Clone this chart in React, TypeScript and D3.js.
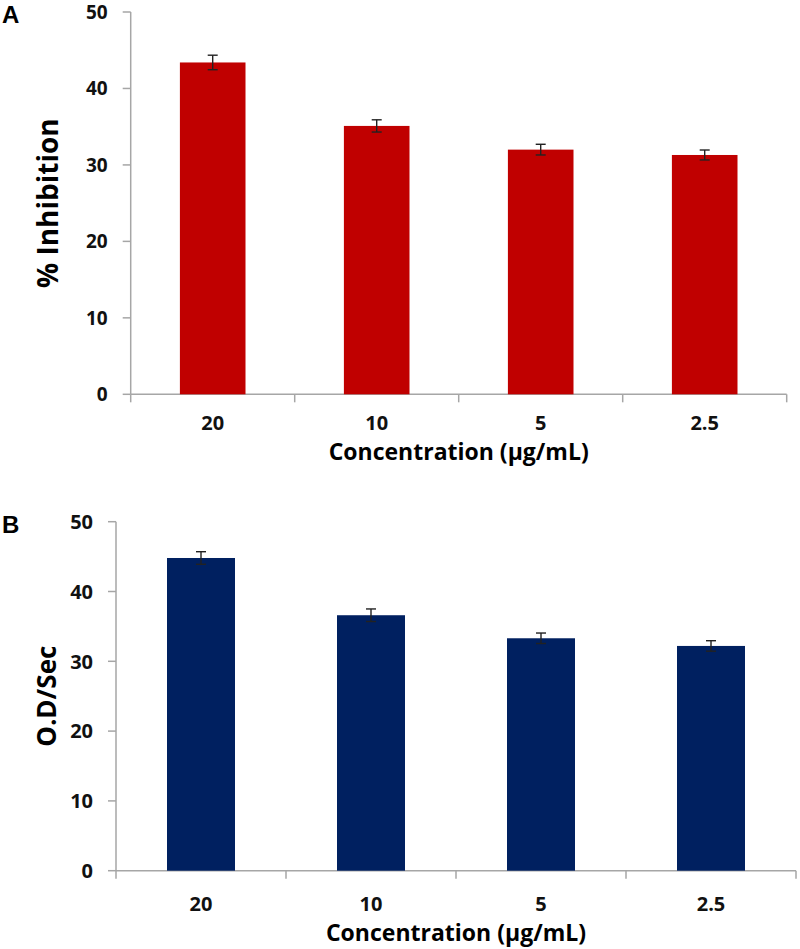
import React from "react";
import * as d3 from "d3";

const categories = ["20", "10", "5", "2.5"];
const inhibition = [43.4, 35.1, 32.0, 31.3];
const inhibitionErr = [0.95, 0.8, 0.7, 0.65];
const odSec = [44.8, 36.6, 33.3, 32.2];
const odSecErr = [0.9, 0.9, 0.75, 0.75];
const yTicks = [0, 10, 20, 30, 40, 50];
const xTitle = "Concentration (µg/mL)";

const FONT = "'Open Sans', 'DejaVu Sans', sans-serif";
const AXIS = "#a6a6a6";

type PanelProps = {
  letter: string;
  letterY: number;
  values: number[];
  errors: number[];
  color: string;
  x0: number;
  x1: number;
  yTop: number;
  yBottom: number;
  yTitle: string;
  yTitleX: number;
  yTitleSize: number;
  yTickSize: number;
  xTickBaseline: number;
  xTitleBaseline: number;
};

function Panel(p: PanelProps) {
  const x = d3
    .scaleBand<string>()
    .domain(categories)
    .range([p.x0, p.x1])
    .paddingInner(0.6)
    .paddingOuter(0.3);
  const y = d3.scaleLinear().domain([0, 50]).range([p.yBottom, p.yTop]);
  const step = x.step();
  const boundaries = d3.range(categories.length + 1).map((i) => p.x0 + i * step);
  const yMid = (p.yTop + p.yBottom) / 2;
  const xMid = (p.x0 + p.x1) / 2;
  return (
    <g>
      <text
        x={2}
        y={p.letterY}
        fontFamily="'Liberation Sans', Arial, sans-serif"
        fontWeight="bold"
        fontSize={24}
        fill="#000"
      >
        {p.letter}
      </text>
      {/* y axis */}
      <line x1={p.x0} x2={p.x0} y1={y(0)} y2={y(50)} stroke={AXIS} strokeWidth={1.5} />
      {yTicks.map((t) => (
        <g key={t}>
          <line x1={p.x0 - 8} x2={p.x0} y1={y(t)} y2={y(t)} stroke={AXIS} strokeWidth={1.5} />
          <text
            x={p.x0 - 23}
            y={y(t)}
            dy="0.36em"
            textAnchor="end"
            fontFamily={FONT}
            fontWeight="bold"
            fontSize={p.yTickSize}
            fill="#111"
          >
            {t}
          </text>
        </g>
      ))}
      {/* x axis */}
      <line x1={p.x0} x2={p.x1} y1={y(0)} y2={y(0)} stroke={AXIS} strokeWidth={1.5} />
      {boundaries.map((bx, i) => (
        <line key={i} x1={bx} x2={bx} y1={y(0)} y2={y(0) + 8} stroke={AXIS} strokeWidth={1.5} />
      ))}
      {/* bars */}
      {categories.map((c, i) => (
        <rect
          key={c}
          x={x(c)}
          y={y(p.values[i])}
          width={x.bandwidth()}
          height={y(0) - y(p.values[i])}
          fill={p.color}
        />
      ))}
      {/* error bars */}
      {categories.map((c, i) => {
        const cx = (x(c) as number) + x.bandwidth() / 2;
        const hi = y(p.values[i] + p.errors[i]);
        const lo = y(p.values[i] - p.errors[i]);
        return (
          <g key={c} stroke="#222" strokeWidth={1.4}>
            <line x1={cx} x2={cx} y1={hi} y2={lo} />
            <line x1={cx - 5} x2={cx + 5} y1={hi} y2={hi} />
            <line x1={cx - 5} x2={cx + 5} y1={lo} y2={lo} />
          </g>
        );
      })}
      {/* x tick labels */}
      {categories.map((c) => (
        <text
          key={c}
          x={(x(c) as number) + x.bandwidth() / 2}
          y={p.xTickBaseline}
          textAnchor="middle"
          fontFamily={FONT}
          fontWeight="bold"
          fontSize={20}
          fill="#111"
        >
          {c}
        </text>
      ))}
      <text
        x={xMid}
        y={p.xTitleBaseline}
        textAnchor="middle"
        fontFamily={FONT}
        fontWeight="bold"
        fontSize={23}
        fill="#000"
      >
        {xTitle}
      </text>
      <text
        transform={`translate(${p.yTitleX},${yMid}) rotate(-90)`}
        textAnchor="middle"
        fontFamily={FONT}
        fontWeight="bold"
        fontSize={p.yTitleSize}
        fill="#000"
      >
        {p.yTitle}
      </text>
    </g>
  );
}

export default function App() {
  return (
    <svg
      width={800}
      height={949}
      style={{ position: "absolute", left: 0, top: 0, background: "#fff" }}
    >
      <rect width={800} height={949} fill="#fff" />
      <Panel
        letter="A"
        letterY={23}
        values={inhibition}
        errors={inhibitionErr}
        color="#c00000"
        x0={130.7}
        x1={786.7}
        yTop={12}
        yBottom={394.3}
        yTitle="% Inhibition"
        yTitleX={58}
        yTitleSize={28}
        yTickSize={19}
        xTickBaseline={430}
        xTitleBaseline={460}
      />
      <Panel
        letter="B"
        letterY={533}
        values={odSec}
        errors={odSecErr}
        color="#002060"
        x0={116}
        x1={796}
        yTop={521.7}
        yBottom={870.7}
        yTitle="O.D/Sec"
        yTitleX={56}
        yTitleSize={26}
        yTickSize={20}
        xTickBaseline={911}
        xTitleBaseline={941}
      />
    </svg>
  );
}
